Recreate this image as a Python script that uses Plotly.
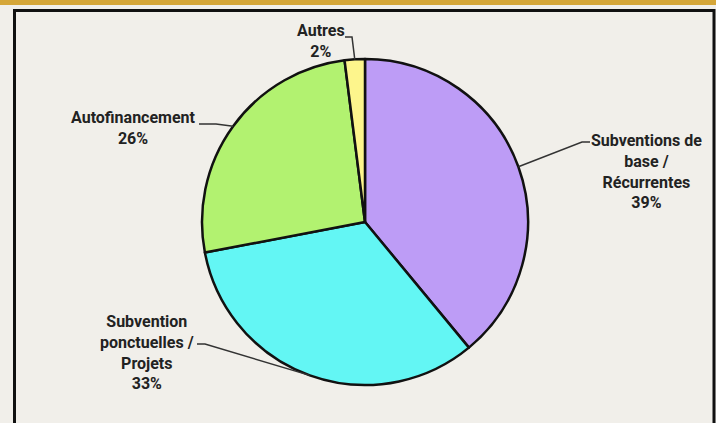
import math
import plotly.graph_objects as go

labels = ["Subventions de base / Récurrentes", "Subvention ponctuelles / Projets",
          "Autofinancement", "Autres"]
values = [39, 33, 26, 2]
label_text = ["Subventions de<br>base /<br>Récurrentes<br>39%",
              "Subvention<br>ponctuelles /<br>Projets<br>33%",
              "Autofinancement<br>26%",
              "Autres<br>2%"]
colors = ["#bd9cf6", "#63f6f4", "#b2f270", "#fdf58c"]

W, H = 716, 423
cx, cy, R = 365, 222, 163

# leader line: elbow point (px), horizontal end (px), label centre (px)
elbows = [(582, 142), (205, 344), (216, 124), (352, 37)]
ends = [(590, 142), (197, 344), (199, 124), (345, 37)]
label_pos = [(646, 172), (147, 352), (133, 128), (321, 41)]


def px(x, y):
    return x / W, 1 - y / H


fig = go.Figure(go.Pie(
    labels=labels, values=values, sort=False, direction="clockwise", rotation=0,
    marker=dict(colors=colors, line=dict(color="#111111", width=2.5)),
    textinfo="none", hoverinfo="label+percent",
    domain=dict(x=[(cx - R) / W, (cx + R) / W], y=[(H - cy - R) / H, (H - cy + R) / H]),
))

shapes = [
    dict(type="rect", xref="paper", yref="paper", x0=0, x1=1, y0=1 - 5 / H, y1=1,
         fillcolor="#d5a638", line=dict(width=0), layer="below"),
    dict(type="rect", xref="paper", yref="paper", x0=14.5 / W, x1=714 / W, y0=-0.05, y1=1 - 10.5 / H,
         fillcolor="rgba(0,0,0,0)", line=dict(color="#111111", width=3)),
]
annotations = []
total = sum(values)
cum = 0
for i, v in enumerate(values):
    mid = (cum + v / 2) / total * 2 * math.pi
    cum += v
    ex, ey = cx + R * math.sin(mid), cy - R * math.cos(mid)
    p0, p1, p2 = px(ex, ey), px(*elbows[i]), px(*ends[i])
    shapes.append(dict(type="path", xref="paper", yref="paper",
                       path=f"M {p0[0]},{p0[1]} L {p1[0]},{p1[1]} L {p2[0]},{p2[1]}",
                       line=dict(color="#333333", width=1.5)))
    lx, ly = px(*label_pos[i])
    annotations.append(dict(x=lx, y=ly, xref="paper", yref="paper", text=f"<b>{label_text[i]}</b>",
                            showarrow=False, align="center", xanchor="center", yanchor="middle",
                            font=dict(family="Roboto", size=16, color="#222222")))

fig.update_layout(
    width=W, height=H, margin=dict(l=0, r=0, t=0, b=0),
    paper_bgcolor="#f1efea", plot_bgcolor="#f1efea",
    showlegend=False, shapes=shapes, annotations=annotations,
)

fig.write_html("out.html", config={"displayModeBar": False},
               post_script="document.body.style.margin='0';")
